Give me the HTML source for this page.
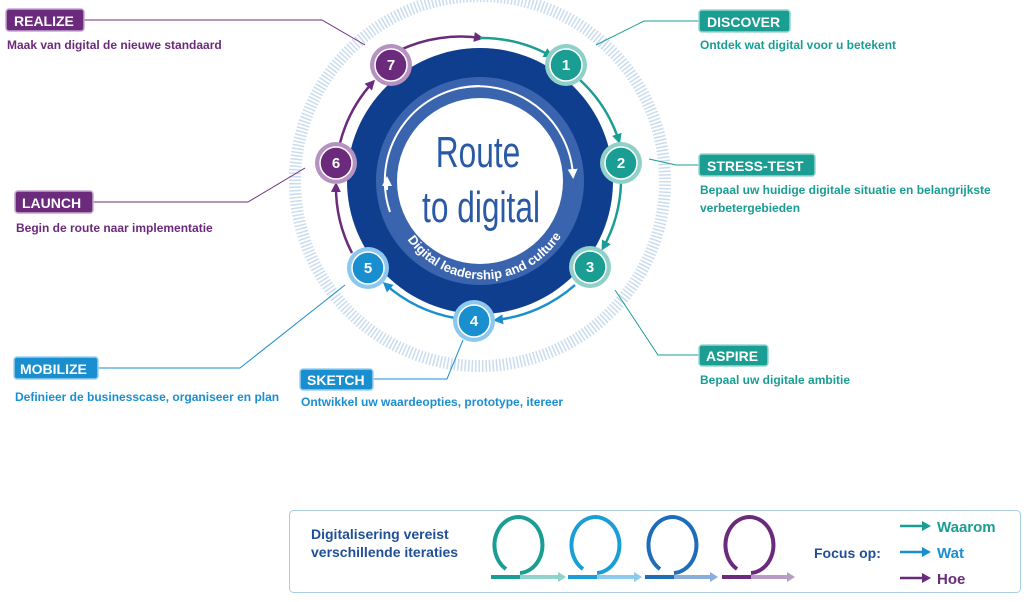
<!DOCTYPE html>
<html><head><meta charset="utf-8"><style>
html,body{margin:0;padding:0;background:#fff;}
svg{display:block;font-family:"Liberation Sans",Arial,sans-serif;}
</style></head><body>
<svg width="1030" height="602" viewBox="0 0 1030 602" xmlns="http://www.w3.org/2000/svg">
<defs>
<marker id="mt" markerWidth="10" markerHeight="10" refX="7" refY="5" orient="auto" markerUnits="userSpaceOnUse"><path d="M0,0 L10,5 L0,10 z" fill="#1a9d92"/></marker>
<marker id="mb" markerWidth="10" markerHeight="10" refX="7" refY="5" orient="auto" markerUnits="userSpaceOnUse"><path d="M0,0 L10,5 L0,10 z" fill="#1a8fd0"/></marker>
<marker id="mp" markerWidth="10" markerHeight="10" refX="7" refY="5" orient="auto" markerUnits="userSpaceOnUse"><path d="M0,0 L10,5 L0,10 z" fill="#6b2a7c"/></marker>
<marker id="mw" markerWidth="10" markerHeight="10" refX="6" refY="5" orient="auto" markerUnits="userSpaceOnUse"><path d="M0,0 L10,5 L0,10 z" fill="#fff"/></marker>
</defs>
<circle cx="480" cy="181" r="185" fill="none" stroke="#c9dcef" stroke-width="12" stroke-dasharray="1.5 2"/>
<circle cx="480" cy="181" r="133" fill="#0f3e8f"/>
<circle cx="480" cy="181" r="104" fill="#3a64ad"/>
<circle cx="480" cy="181" r="83" fill="#fff"/>
<path d="M390,212 A95,95 0 0 1 480,86" fill="none" stroke="#fff" stroke-width="2"/>
<path d="M387,190 L387,180" stroke="#fff" stroke-width="2" marker-end="url(#mw)"/>
<path d="M460,88 A95,95 0 0 1 573,175" fill="none" stroke="#fff" stroke-width="2" marker-end="url(#mw)"/>
<text transform="translate(478,167) scale(0.72,1)" text-anchor="middle" font-size="44" fill="#2a5aa5">Route</text>
<text transform="translate(481,222) scale(0.72,1)" text-anchor="middle" font-size="44" fill="#2a5aa5">to digital</text>
<path id="arcL" d="M398,222 A92,92 0 0 0 570,218" fill="none"/>
<text font-size="13" font-weight="bold" fill="#fff"><textPath href="#arcL" startOffset="50%" text-anchor="middle">Digital leadership and culture</textPath></text>
<path d="M400,50 A143,143 0 0 1 481,38" fill="none" stroke="#6b2a7c" stroke-width="2.5" marker-end="url(#mp)"/>
<path d="M480,38 A143,143 0 0 1 551,56" fill="none" stroke="#1a9d92" stroke-width="2.5" marker-end="url(#mt)"/>
<path d="M580,80 A143,143 0 0 1 619,141" fill="none" stroke="#1a9d92" stroke-width="2.5" marker-end="url(#mt)"/>
<path d="M621,183 A143,143 0 0 1 603,248" fill="none" stroke="#1a9d92" stroke-width="2.5" marker-end="url(#mt)"/>
<path d="M575,285 A143,143 0 0 1 496,320" fill="none" stroke="#1a8fd0" stroke-width="2.5" marker-end="url(#mb)"/>
<path d="M455,318 A143,143 0 0 1 385,284" fill="none" stroke="#1a8fd0" stroke-width="2.5" marker-end="url(#mb)"/>
<path d="M352,253 A143,143 0 0 1 336,185" fill="none" stroke="#6b2a7c" stroke-width="2.5" marker-end="url(#mp)"/>
<path d="M340,143 A143,143 0 0 1 373,82" fill="none" stroke="#6b2a7c" stroke-width="2.5" marker-end="url(#mp)"/>
<g font-size="15" font-weight="bold" fill="#fff" text-anchor="middle">
<circle cx="566" cy="65" r="21" fill="#8fd0c8"/><circle cx="566" cy="65" r="16" fill="#1a9d92" stroke="#fff" stroke-width="1.5"/><text x="566" y="70">1</text>
<circle cx="621" cy="163" r="21" fill="#8fd0c8"/><circle cx="621" cy="163" r="16" fill="#1a9d92" stroke="#fff" stroke-width="1.5"/><text x="621" y="168">2</text>
<circle cx="590" cy="267" r="21" fill="#8fd0c8"/><circle cx="590" cy="267" r="16" fill="#1a9d92" stroke="#fff" stroke-width="1.5"/><text x="590" y="272">3</text>
<circle cx="474" cy="321" r="21" fill="#8cc8ee"/><circle cx="474" cy="321" r="16" fill="#1a8fd0" stroke="#fff" stroke-width="1.5"/><text x="474" y="326">4</text>
<circle cx="368" cy="268" r="21" fill="#8cc8ee"/><circle cx="368" cy="268" r="16" fill="#1a8fd0" stroke="#fff" stroke-width="1.5"/><text x="368" y="273">5</text>
<circle cx="336" cy="163" r="21" fill="#b592c0"/><circle cx="336" cy="163" r="16" fill="#6b2a7c" stroke="#fff" stroke-width="1.5"/><text x="336" y="168">6</text>
<circle cx="391" cy="65" r="21" fill="#b592c0"/><circle cx="391" cy="65" r="16" fill="#6b2a7c" stroke="#fff" stroke-width="1.5"/><text x="391" y="70">7</text>
</g>
<g fill="none" stroke-width="1">
<polyline points="84,20 322,20 365,45" stroke="#6b2a7c"/>
<polyline points="93,202 248,202 305,168" stroke="#6b2a7c"/>
<polyline points="98,368 240,368 345,285" stroke="#1a8fd0"/>
<polyline points="373,379 447,379 463,340" stroke="#1a8fd0"/>
<polyline points="596,45 644,21 699,21" stroke="#1a9d92"/>
<polyline points="649,159 676,165 699,165" stroke="#1a9d92"/>
<polyline points="615,290 658,355 699,355" stroke="#1a9d92"/>
</g>
<g font-size="14" font-weight="bold" fill="#fff">
<rect x="6" y="9" width="78" height="22" rx="3" fill="#6b2a7c" stroke="#c5a6d0" stroke-width="1.5"/><text x="14" y="26">REALIZE</text>
<rect x="15" y="191" width="78" height="22" rx="3" fill="#6b2a7c" stroke="#c5a6d0" stroke-width="1.5"/><text x="22" y="208">LAUNCH</text>
<rect x="14" y="357" width="84" height="22" rx="3" fill="#1a8fd0" stroke="#9dd0f0" stroke-width="1.5"/><text x="20" y="374">MOBILIZE</text>
<rect x="300" y="369" width="73" height="21" rx="3" fill="#1a8fd0" stroke="#9dd0f0" stroke-width="1.5"/><text x="307" y="385">SKETCH</text>
<rect x="699" y="10" width="91" height="22" rx="3" fill="#1a9d92" stroke="#9ad6cf" stroke-width="1.5"/><text x="707" y="27">DISCOVER</text>
<rect x="699" y="154" width="116" height="22" rx="3" fill="#1a9d92" stroke="#9ad6cf" stroke-width="1.5"/><text x="707" y="171">STRESS-TEST</text>
<rect x="699" y="345" width="69" height="21" rx="3" fill="#1a9d92" stroke="#9ad6cf" stroke-width="1.5"/><text x="706" y="361">ASPIRE</text>
</g>
<g font-size="12" font-weight="bold">
<text x="7" y="49" fill="#6b2a7c">Maak van digital de nieuwe standaard</text>
<text x="16" y="232" fill="#6b2a7c">Begin de route naar implementatie</text>
<text x="15" y="401" fill="#1a8fd0">Definieer de businesscase, organiseer en plan</text>
<text x="301" y="406" fill="#1a8fd0">Ontwikkel uw waardeopties, prototype, itereer</text>
<text x="700" y="49" fill="#1a9d92">Ontdek wat digital voor u betekent</text>
<text x="700" y="194" fill="#1a9d92">Bepaal uw huidige digitale situatie en belangrijkste</text>
<text x="700" y="212" fill="#1a9d92">verbetergebieden</text>
<text x="700" y="384" fill="#1a9d92">Bepaal uw digitale ambitie</text>
</g>
<rect x="289.5" y="510.5" width="731" height="82" rx="4" fill="#fff" stroke="#a8cce4" stroke-width="1"/>
<text x="311" y="539" font-size="14" font-weight="bold" fill="#1f4f99">Digitalisering vereist</text>
<text x="311" y="557" font-size="14" font-weight="bold" fill="#1f4f99">verschillende iteraties</text>
<g fill="none" stroke-width="4">
<path d="M506,569 A24,28 0 1 1 520,573" stroke="#1a9d92"/>
<path d="M583,569 A24,28 0 1 1 597,573" stroke="#1a9ed8"/>
<path d="M660,569 A24,28 0 1 1 674,573" stroke="#1e6db8"/>
<path d="M737,569 A24,28 0 1 1 751,573" stroke="#6b2a7c"/>
</g>
<g stroke-width="4">
<line x1="491" y1="577" x2="560" y2="577" stroke="#8fd3cc"/><line x1="491" y1="577" x2="520" y2="577" stroke="#1a9d92"/><path d="M558,572 L566,577 L558,582z" fill="#8fd3cc"/>
<line x1="568" y1="577" x2="636" y2="577" stroke="#8ccbee"/><line x1="568" y1="577" x2="597" y2="577" stroke="#1a9ed8"/><path d="M634,572 L642,577 L634,582z" fill="#8ccbee"/>
<line x1="645" y1="577" x2="712" y2="577" stroke="#89aedb"/><line x1="645" y1="577" x2="674" y2="577" stroke="#1e6db8"/><path d="M710,572 L718,577 L710,582z" fill="#89aedb"/>
<line x1="722" y1="577" x2="789" y2="577" stroke="#b99cc6"/><line x1="722" y1="577" x2="751" y2="577" stroke="#6b2a7c"/><path d="M787,572 L795,577 L787,582z" fill="#b99cc6"/>
</g>
<text x="814" y="558" font-size="14" font-weight="bold" fill="#1f4f99">Focus op:</text>
<g stroke-width="2.5">
<line x1="900" y1="526" x2="924" y2="526" stroke="#1a9d92"/><path d="M922,521 L931,526 L922,531z" fill="#1a9d92"/>
<line x1="900" y1="552" x2="924" y2="552" stroke="#1a8fd0"/><path d="M922,547 L931,552 L922,557z" fill="#1a8fd0"/>
<line x1="900" y1="578" x2="924" y2="578" stroke="#6b2a7c"/><path d="M922,573 L931,578 L922,583z" fill="#6b2a7c"/>
</g>
<g font-size="15" font-weight="bold">
<text x="937" y="532" fill="#1a9d92">Waarom</text>
<text x="937" y="558" fill="#1a8fd0">Wat</text>
<text x="937" y="584" fill="#6b2a7c">Hoe</text>
</g>
</svg>
</body></html>
